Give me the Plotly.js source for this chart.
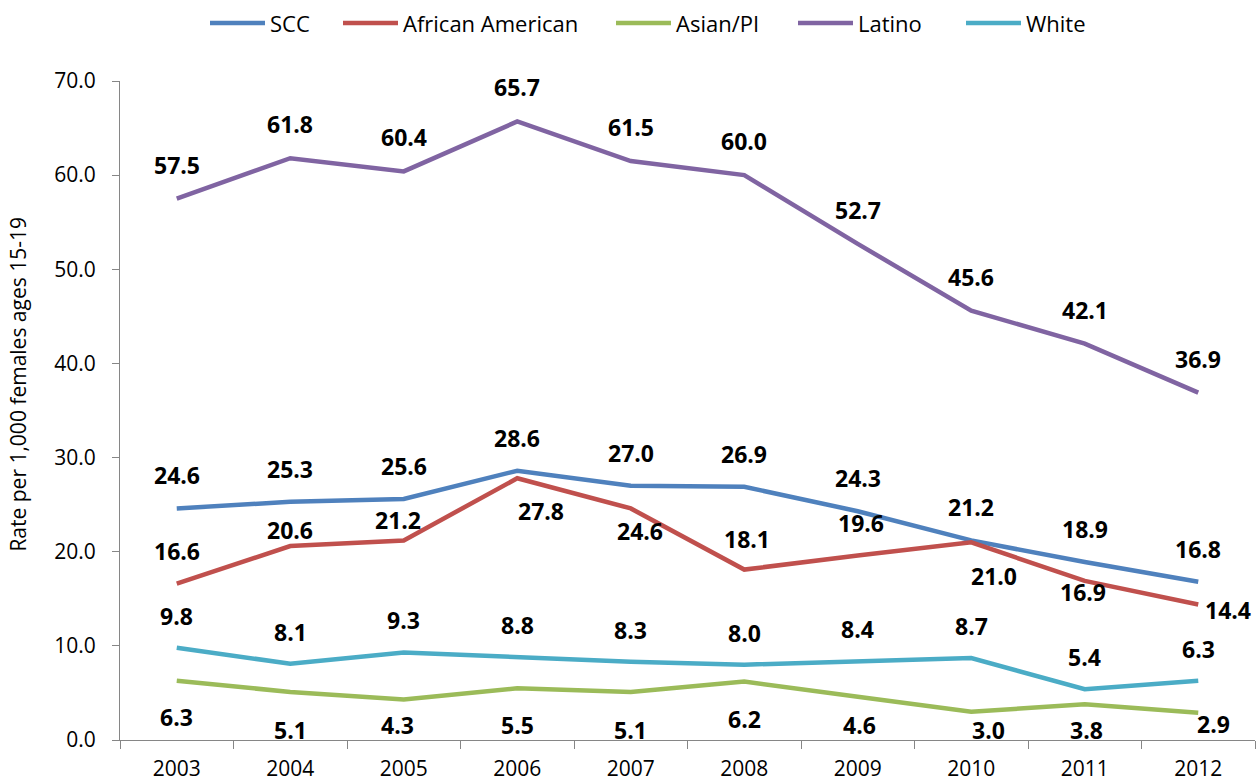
<!DOCTYPE html>
<html>
<head>
<meta charset="utf-8">
<script src="https://cdn.plot.ly/plotly-3.0.1.min.js"></script>
<style>
  html, body { margin: 0; padding: 0; background: #ffffff; }
  #chart { width: 1257px; height: 782px; }
</style>
</head>
<body>
<div id="chart"></div>
<script>
// ---- data ----
const years = ['2003', '2004', '2005', '2006', '2007', '2008', '2009', '2010', '2011', '2012'];
const scc = [24.6, 25.3, 25.6, 28.6, 27.0, 26.9, 24.3, 21.2, 18.9, 16.8];
const africanAmerican = [16.6, 20.6, 21.2, 27.8, 24.6, 18.1, 19.6, 21.0, 16.9, 14.4];
const asianPI = [6.3, 5.1, 4.3, 5.5, 5.1, 6.2, 4.6, 3.0, 3.8, 2.9];
const latino = [57.5, 61.8, 60.4, 65.7, 61.5, 60.0, 52.7, 45.6, 42.1, 36.9];
const white = [9.8, 8.1, 9.3, 8.8, 8.3, 8.0, 8.4, 8.7, 5.4, 6.3];
const seriesNames = ['SCC', 'African American', 'Asian/PI', 'Latino', 'White'];
const yTitle = 'Rate per 1,000 females ages 15-19';

// ---- styling / label placement (pixel offsets, dy positive = up) ----
const colors = ['#4F81BD', '#C0504D', '#9BBB59', '#8064A2', '#4BACC6'];
const labelOffsets = [
  years.map(() => [0, 33]),
  [[0, 33], [0, 16], [-6, 20], [24, -33], [9, -23], [3, 31], [3, 32], [23, -34], [-2, -11], [30, -6]],
  [[0, -36], [0, -38], [-6, -25], [0, -37], [0, -38], [0, -37], [2, -28], [17, -18], [2, -26], [15, -11]],
  years.map(() => [0, 34]),
  years.map(() => [0, 32])
];
const legendStartPx = [210, 343, 616, 798, 966];
const FONT = 'Open Sans, Lato, Liberation Sans, sans-serif';
const plotLeft = 120, plotWidth = 1257 - 120 - 2;

const allSeries = [scc, africanAmerican, asianPI, latino, white];
const legendIds = ['legend', 'legend2', 'legend3', 'legend4', 'legend5'];

const traces = allSeries.map((vals, i) => ({
  type: 'scatter',
  mode: 'lines',
  name: seriesNames[i],
  x: years,
  y: vals,
  line: { color: colors[i], width: 4.5 },
  legend: legendIds[i],
  hoverinfo: 'x+y+name'
}));

const annotations = [];
allSeries.forEach((vals, i) => {
  vals.forEach((v, j) => {
    annotations.push({
      x: j, y: v, xref: 'x', yref: 'y',
      text: '<b>' + v.toFixed(1) + '</b>',
      showarrow: false,
      xanchor: 'center', yanchor: 'middle',
      xshift: labelOffsets[i][j][0],
      yshift: labelOffsets[i][j][1],
      font: { family: FONT, size: 23, color: '#000000' }
    });
  });
});
annotations.push({
  xref: 'paper', yref: 'paper',
  x: (18 - plotLeft) / plotWidth, y: (740 - 383) / 662,
  xanchor: 'center', yanchor: 'middle',
  text: yTitle, textangle: -90, showarrow: false,
  font: { family: FONT, size: 21, color: '#000000' }
});

const layout = {
  width: 1257, height: 782,
  margin: { l: 120, r: 2, t: 78, b: 42, pad: 0 },
  paper_bgcolor: '#ffffff', plot_bgcolor: '#ffffff',
  font: { family: FONT, color: '#000000' },
  showlegend: true,
  xaxis: {
    type: 'category', range: [-0.5, 9.5],
    tickson: 'boundaries', ticks: 'outside', ticklen: 8, tickcolor: '#868686', tickwidth: 1,
    showline: true, linecolor: '#868686', linewidth: 1,
    showgrid: false, zeroline: false,
    ticklabelstandoff: 10,
    tickfont: { family: FONT, size: 21, color: '#000000' }
  },
  yaxis: {
    range: [0, 70], dtick: 10, tick0: 0, tickformat: '.1f',
    ticks: 'outside', ticklen: 7, tickcolor: '#868686', tickwidth: 1,
    showline: true, linecolor: '#868686', linewidth: 1,
    showgrid: false, zeroline: false,
    ticklabelstandoff: 12,
    tickfont: { family: FONT, size: 21, color: '#000000' }
  },
  annotations: annotations
};

legendIds.forEach((id, i) => {
  layout[id] = {
    orientation: 'h',
    x: (legendStartPx[i] - 5 - plotLeft) / plotWidth,
    xanchor: 'left',
    y: (740 - 20) / 662,
    yanchor: 'middle',
    bgcolor: 'rgba(0,0,0,0)',
    borderwidth: 0,
    itemwidth: 55,
    font: { family: FONT, size: 22, color: '#000000' }
  };
});

Plotly.newPlot('chart', traces, layout, { displayModeBar: false, responsive: false });
</script>
</body>
</html>
